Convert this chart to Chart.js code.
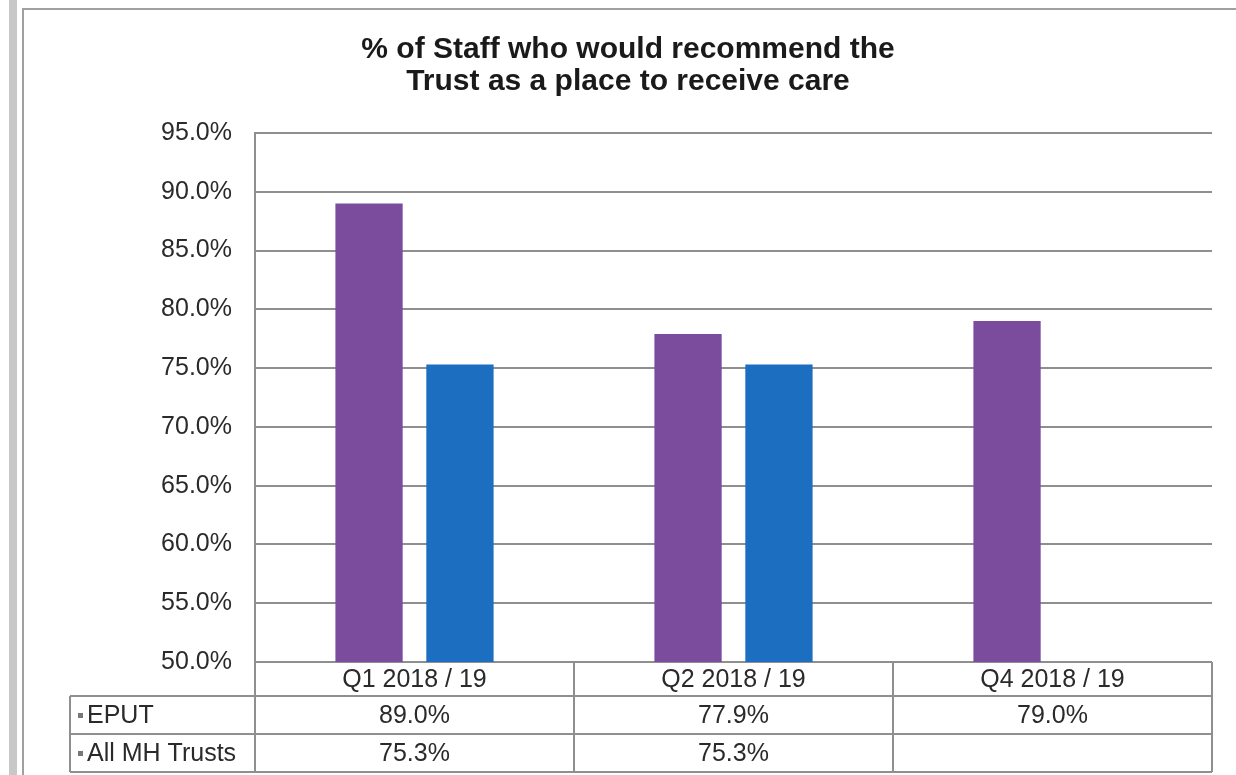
<!DOCTYPE html>
<html lang="en">
<head>
  <meta charset="utf-8" />
  <title>Staff recommend the Trust</title>
  <style>
    * { margin: 0; padding: 0; box-sizing: border-box; }
    body { width: 1236px; height: 775px; background: #ffffff; overflow: hidden; }
    .wrap { position: relative; width: 1236px; height: 775px; }
  </style>
</head>
<body>
  <div class="wrap">
    <canvas id="chart" width="1236" height="775"></canvas>
  </div>

  <script src="https://cdn.jsdelivr.net/npm/chart.js@4/dist/chart.umd.min.js"></script>
  <script>
    // Quarters and the two series shown in the table under the bars
    const quarters = ["Q1 2018 / 19", "Q2 2018 / 19", "Q4 2018 / 19"];
    const seriesNames = ["EPUT", "All MH Trusts"];
    const eputValues = [89.0, 77.9, 79.0];
    const allMhValues = [75.3, 75.3, null];
    const seriesColors = ["#7b4c9e", "#1b6ec0"];
    const titleLines = ["% of Staff who would recommend the", "Trust as a place to receive care"];

    const FONT = "'Liberation Sans', Arial, sans-serif";
    const LINE = "#8f8f8f";

    // Frame around the chart object (grey strip + thin border) and the title
    const framePlugin = {
      id: "frame",
      beforeDraw(chart) {
        const ctx = chart.ctx;
        ctx.save();
        ctx.fillStyle = "#ffffff";
        ctx.fillRect(0, 0, chart.width, chart.height);
        ctx.fillStyle = "#c8c8c8";
        ctx.fillRect(9, 0, 8, chart.height);
        ctx.strokeStyle = "#a0a0a0";
        ctx.lineWidth = 2;
        ctx.beginPath();
        ctx.moveTo(23, chart.height);
        ctx.lineTo(23, 9);
        ctx.lineTo(chart.width, 9);
        ctx.stroke();

        ctx.fillStyle = "#1a1a1a";
        ctx.font = "bold 30px " + FONT;
        ctx.textAlign = "center";
        ctx.textBaseline = "middle";
        titleLines.forEach((t, i) => ctx.fillText(t, 628, 50 + i * 32));
        ctx.restore();
      }
    };

    // Data table drawn beneath the plot area, aligned to the category columns
    const tablePlugin = {
      id: "dataTable",
      afterDraw(chart) {
        const ctx = chart.ctx;
        const area = chart.chartArea;
        const xs = chart.scales.x;
        const n = chart.data.labels.length;
        const colW = (area.right - area.left) / n;
        const tableLeft = 70;
        const headerBottom = area.bottom + 34;
        const rowH = 38;
        const rows = chart.data.datasets;
        const tableBottom = headerBottom + rowH * rows.length;

        ctx.save();
        ctx.strokeStyle = LINE;
        ctx.lineWidth = 2;
        ctx.beginPath();
        // vertical lines
        for (let i = 0; i <= n; i++) {
          const x = area.left + colW * i;
          ctx.moveTo(x, area.bottom);
          ctx.lineTo(x, tableBottom);
        }
        ctx.moveTo(tableLeft, headerBottom);
        ctx.lineTo(tableLeft, tableBottom);
        // horizontal lines
        for (let r = 0; r <= rows.length; r++) {
          const y = headerBottom + rowH * r;
          ctx.moveTo(tableLeft, y);
          ctx.lineTo(area.right, y);
        }
        ctx.stroke();

        ctx.fillStyle = "#2a2a2a";
        ctx.font = "25px " + FONT;
        ctx.textBaseline = "middle";
        ctx.textAlign = "center";
        chart.data.labels.forEach((label, i) => {
          ctx.fillText(label, xs.getPixelForValue(i), area.bottom + 18);
        });

        rows.forEach((ds, r) => {
          const cy = headerBottom + rowH * r + rowH / 2 + 1;
          ctx.fillStyle = "#777777";
          ctx.fillRect(tableLeft + 8, cy - 3, 5, 5);
          ctx.fillStyle = "#2a2a2a";
          ctx.textAlign = "left";
          ctx.fillText(ds.label, tableLeft + 17, cy);
          ctx.textAlign = "center";
          ds.data.forEach((v, i) => {
            if (v === null) return;
            ctx.fillText(v.toFixed(1) + "%", xs.getPixelForValue(i), cy);
          });
        });
        ctx.restore();
      }
    };

    new Chart(document.getElementById("chart"), {
      type: "bar",
      data: {
        labels: quarters,
        datasets: [
          { label: seriesNames[0], data: eputValues, backgroundColor: seriesColors[0] },
          { label: seriesNames[1], data: allMhValues, backgroundColor: seriesColors[1] }
        ]
      },
      options: {
        responsive: false,
        animation: false,
        devicePixelRatio: 1,
        categoryPercentage: 0.57,
        barPercentage: 0.74,
        layout: { padding: { left: 0, right: 24, top: 133, bottom: 0 } },
        plugins: {
          legend: { display: false },
          tooltip: { enabled: false },
          title: { display: false }
        },
        scales: {
          x: {
            grid: { display: false },
            border: { display: false },
            ticks: { display: false },
            afterFit(scale) { scale.height = 113; }
          },
          y: {
            min: 50,
            max: 95,
            ticks: {
              stepSize: 5,
              padding: 23,
              color: "#2a2a2a",
              font: { family: FONT, size: 25 },
              callback: (v) => v.toFixed(1) + "%"
            },
            grid: { color: LINE, lineWidth: 2, drawTicks: false },
            border: { display: true, color: LINE, width: 2 },
            afterFit(scale) { scale.width = 255; }
          }
        }
      },
      plugins: [framePlugin, tablePlugin]
    });
  </script>
</body>
</html>
